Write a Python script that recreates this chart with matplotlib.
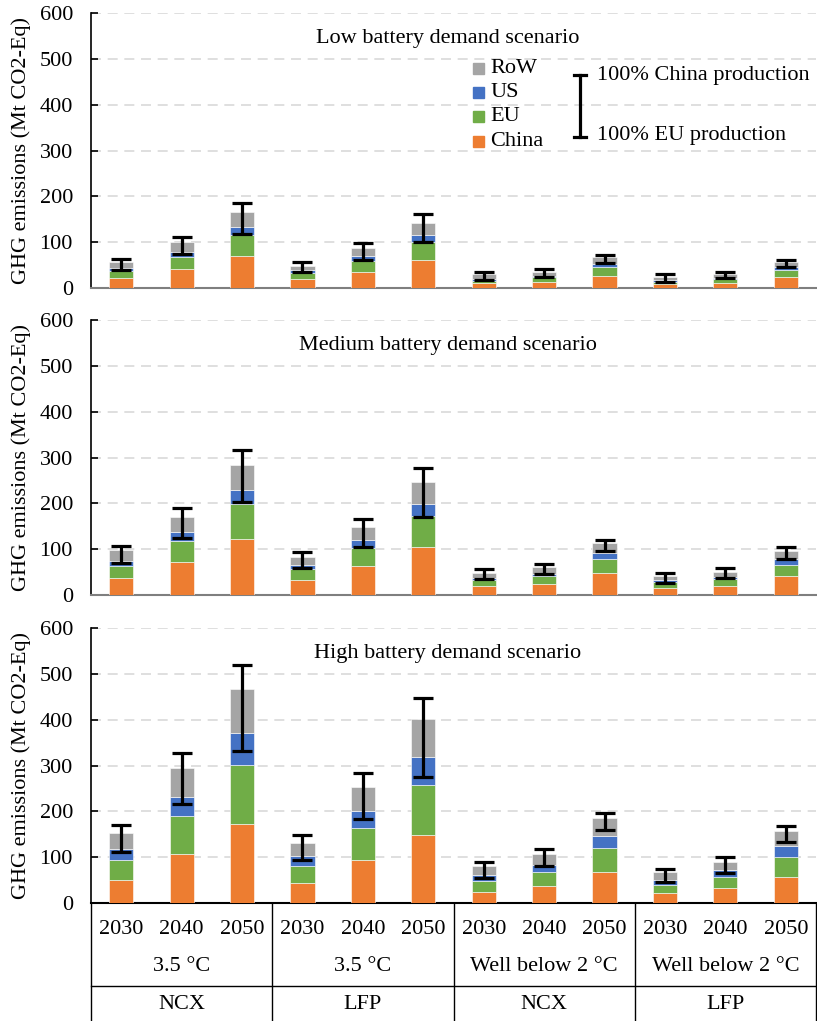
import matplotlib
matplotlib.use("Agg")
import matplotlib.pyplot as plt
import numpy as np
from matplotlib.patches import Rectangle

plt.rcParams['font.family'] = ['Liberation Serif', 'DejaVu Serif']

years = ['2030', '2040', '2050'] * 4
climates = ['3.5 °C', '3.5 °C', 'Well below 2 °C', 'Well below 2 °C']
chemistries = ['NCX', 'LFP', 'NCX', 'LFP']
titles = ['Low battery demand scenario', 'Medium battery demand scenario',
          'High battery demand scenario']
regions = ['China', 'EU', 'US', 'RoW']
colors = ['#ED7D31', '#70AD47', '#4472C4', '#A5A5A5']

# emissions per region (Mt CO2-Eq), one list per scenario
china = [
    [22, 42, 71, 19, 36, 62, 10, 14, 27, 8, 11, 24],
    [38, 72, 123, 33, 64, 106, 19, 24, 48, 15, 20, 41],
    [50, 107, 172, 44, 93, 148, 25, 37, 68, 21, 32, 57],
]
eu = [
    [16, 26, 44, 14, 24, 38, 6, 10, 18, 6, 8, 15],
    [26, 46, 76, 23, 39, 66, 14, 18, 30, 14, 15, 25],
    [44, 82, 129, 37, 70, 109, 24, 31, 52, 19, 25, 44],
]
us = [
    [6, 11, 19, 6, 9, 15, 3, 3, 8, 3, 3, 6],
    [11, 19, 30, 10, 17, 27, 5, 5, 13, 3, 5, 12],
    [24, 43, 70, 22, 38, 61, 13, 16, 27, 11, 14, 23],
]
row = [
    [12, 21, 32, 10, 18, 28, 11, 9, 14, 8, 8, 12],
    [23, 34, 56, 18, 29, 48, 11, 14, 22, 10, 11, 19],
    [35, 63, 97, 29, 53, 83, 18, 22, 39, 17, 19, 33],
]
# range: 100% EU production (low) to 100% China production (high)
err_low = [
    [40, 74, 118, 34, 62, 100, 18, 24, 55, 13, 21, 46],
    [70, 125, 203, 60, 106, 170, 34, 46, 96, 27, 38, 79],
    [111, 216, 333, 94, 183, 276, 55, 81, 160, 46, 66, 133],
]
err_high = [
    [63, 112, 185, 57, 98, 162, 34, 41, 73, 30, 36, 62],
    [107, 190, 317, 95, 166, 277, 56, 68, 121, 49, 59, 105],
    [171, 327, 520, 148, 283, 447, 90, 117, 197, 75, 100, 168],
]

FS = 16

fig = plt.figure(figsize=(8.17, 10.21), dpi=100)
bottoms_fig = [0.7179, 0.4172, 0.1156]
axes = [fig.add_axes([0.1114, b, 0.8874, 0.2690]) for b in bottoms_fig]

x = np.arange(12)
for k, ax in enumerate(axes):
    segs = [china[k], eu[k], us[k], row[k]]
    base = np.zeros(12)
    for vals, c, lab in zip(segs, colors, regions):
        ax.bar(x, vals, 0.4, bottom=base, color=c, edgecolor='white',
               linewidth=0.4, label=lab, zorder=3)
        base = base + np.array(vals)
    lo = np.array(err_low[k])
    hi = np.array(err_high[k])
    ax.errorbar(x, (lo + hi) / 2, yerr=(hi - lo) / 2, fmt='none',
                ecolor='black', elinewidth=2.3, capsize=7, capthick=2.3,
                zorder=4)
    ax.set_xlim(-0.5, 11.5)
    ax.set_ylim(0, 600)
    ax.set_yticks(range(0, 601, 100))
    ax.yaxis.grid(True, color='#d9d9d9', linestyle=(0, (6, 4)),
                  linewidth=1.2, zorder=0)
    ax.set_axisbelow(True)
    for s in ['top', 'right']:
        ax.spines[s].set_visible(False)
    ax.spines['left'].set_color('black')
    ax.spines['left'].set_linewidth(1.2)
    ax.spines['bottom'].set_linewidth(1.5)
    ax.spines['bottom'].set_color('black' if k == 2 else '#7f7f7f')
    ax.tick_params(axis='y', direction='in', length=5, width=1.2,
                   labelsize=FS, pad=13)
    ax.tick_params(axis='x', bottom=False, labelbottom=False)
    ax.set_ylabel('GHG emissions (Mt CO2-Eq)', fontsize=FS, labelpad=6)
    ax.text(0.492, 0.91, titles[k], transform=ax.transAxes, ha='center',
            va='center', fontsize=FS)

# legend in top panel
ax = axes[0]
leg_y = [0.533, 0.624, 0.712, 0.799]
for lab, c, yy in zip(regions, colors, leg_y):
    ax.add_patch(Rectangle((0.534 - 0.0076, yy - 0.02), 0.0152, 0.040,
                           transform=ax.transAxes, color=c, clip_on=False,
                           zorder=5))
    ax.text(0.551, yy, lab, transform=ax.transAxes, ha='left', va='center',
            fontsize=FS)
ex = 0.674
ax.plot([ex, ex], [0.551, 0.777], color='black', lw=2.3,
        transform=ax.transAxes, clip_on=False)
for yy in [0.551, 0.777]:
    ax.plot([ex - 0.0083, ex + 0.0083], [yy, yy], color='black', lw=2.3,
            transform=ax.transAxes, clip_on=False)
ax.text(0.698, 0.773, '100% China production', transform=ax.transAxes,
        ha='left', va='center', fontsize=FS)
ax.text(0.698, 0.555, '100% EU production', transform=ax.transAxes,
        ha='left', va='center', fontsize=FS)

# multi-level category axis under the bottom panel
ax = axes[2]
tr = ax.get_xaxis_transform()
for i, y in enumerate(years):
    ax.text(i, -0.098, y, transform=tr, ha='center', va='center', fontsize=FS)
for g in range(4):
    ax.text(3 * g + 1, -0.233, climates[g], transform=tr, ha='center',
            va='center', fontsize=FS)
    ax.text(3 * g + 1, -0.371, chemistries[g], transform=tr, ha='center',
            va='center', fontsize=FS)
for xb in [-0.5, 2.5, 5.5, 8.5, 11.5]:
    ax.plot([xb, xb], [0, -0.45], color='black', lw=1.0, transform=tr,
            clip_on=False)
ax.plot([-0.5, 11.5], [-0.302, -0.302], color='black', lw=1.0, transform=tr,
        clip_on=False)

plt.savefig('out.png', dpi=100)
